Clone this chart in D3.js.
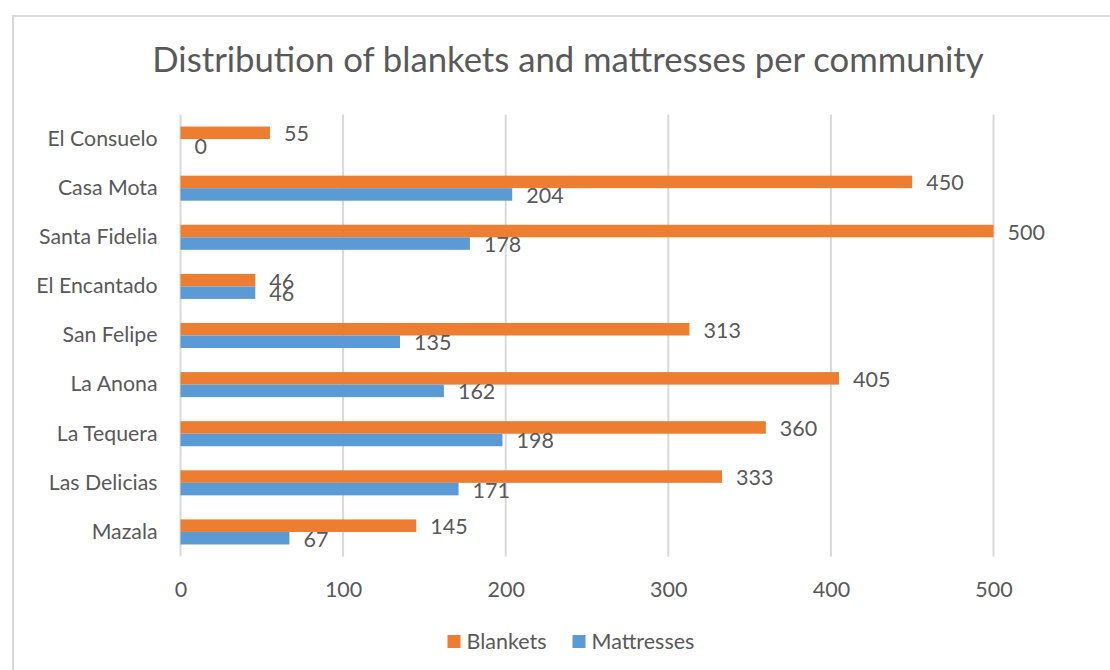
<!DOCTYPE html>
<head>
<meta charset="utf-8">
<title>Blankets and mattresses per community</title>
<script src="https://cdn.jsdelivr.net/npm/d3@7"></script>
<style>
  body { margin: 0; background: #fff; }
  svg text { font-family: Lato, "Open Sans", sans-serif; fill: #595959; }
</style>
</head>

<body>
<div id="container"></div>
<script>

// communities, top to bottom as in the chart
const communities = ["El Consuelo", "Casa Mota", "Santa Fidelia", "El Encantado",
  "San Felipe", "La Anona", "La Tequera", "Las Delicias", "Mazala"]
const blankets   = [55, 450, 500, 46, 313, 405, 360, 333, 145]
const mattresses = [0, 204, 178, 46, 135, 162, 198, 171, 67]
const seriesNames = ["Blankets", "Mattresses"]
const seriesColors = ["#ED7D31", "#5B9BD5"]
const xTicks = [0, 100, 200, 300, 400, 500]
const chartTitle = "Distribution of blankets and mattresses per community"

function chart() {
  const width = 1110; const height = 670;
  const margin = ({top: 114.5, right: 116.5, bottom: 113.5, left: 180.5})

  const svg = d3.select("div#container").append("svg")
      .attr("width", width).attr("height", height)

  // chart frame (runs off the right and bottom of the picture)
  svg.append("rect")
     .attr("x", 13).attr("y", 16).attr("width", width).attr("height", height)
     .attr("fill", "none").attr("stroke", "#d9d9d9").attr("stroke-width", 2)

  svg.append("text")
     .attr("x", 568).attr("y", 72).attr("text-anchor", "middle")
     .attr("font-size", 34.7).text(chartTitle)

  const xScale = d3.scaleLinear().domain([0, 500])
    .range([margin.left, width - margin.right])
  const yScale = d3.scaleBand().domain(communities)
    .range([margin.top, height - margin.bottom])
    .paddingInner(0.49).paddingOuter(0.245)
  const ySub = d3.scaleBand().domain(seriesNames).range([0, yScale.bandwidth()])
  const color = d3.scaleOrdinal().domain(seriesNames).range(seriesColors)

  // vertical gridlines
  svg.append("g").selectAll("line").data(xTicks).join("line")
     .attr("x1", d => xScale(d)).attr("x2", d => xScale(d))
     .attr("y1", margin.top).attr("y2", height - margin.bottom)
     .attr("stroke", "#d9d9d9").attr("stroke-width", 2)

  const xAxis = g => g
    .attr("transform", `translate(0,${height - margin.bottom})`)
    .call(d3.axisBottom(xScale).tickValues(xTicks).tickSize(0).tickPadding(25))
    .call(g => g.select(".domain").remove())
    .call(g => g.selectAll("text").attr("font-size", 21.5).attr("fill", null))
  const yAxis = g => g
    .attr("transform", `translate(${margin.left},0)`)
    .call(d3.axisLeft(yScale).tickSize(0).tickPadding(23))
    .call(g => g.select(".domain").remove())
    .call(g => g.selectAll("text").attr("font-size", 21.3).attr("fill", null))

  svg.append("g").call(xAxis)
  svg.append("g").call(yAxis)

  const rows = communities.map((c, i) => ({name: c,
    values: [{key: "Blankets", v: blankets[i]}, {key: "Mattresses", v: mattresses[i]}]}))

  const group = svg.append("g").selectAll("g").data(rows).join("g")
     .attr("transform", d => `translate(0,${yScale(d.name)})`)

  group.selectAll("rect").data(d => d.values).join("rect")
     .attr("x", xScale(0)).attr("y", d => ySub(d.key))
     .attr("width", d => xScale(d.v) - xScale(0)).attr("height", ySub.bandwidth())
     .attr("fill", d => color(d.key))

  group.selectAll("text").data(d => d.values).join("text")
     .attr("x", d => xScale(d.v) + 14)
     .attr("y", d => ySub(d.key) + ySub.bandwidth() / 2 + 1)
     .attr("dy", "0.35em").attr("font-size", 21.5)
     .text(d => d.v)

  // legend
  const legend = svg.append("g").selectAll("g").data(seriesNames).join("g")
     .attr("transform", (d, i) => `translate(${[447.5, 572.5][i]},635)`)
  legend.append("rect").attr("width", 13).attr("height", 13).attr("fill", d => color(d))
  legend.append("text").attr("x", 19).attr("y", 6.5).attr("dy", "0.35em")
     .attr("font-size", 21.5).text(d => d)

  return svg.node()
}

chart()

</script>
</body>
